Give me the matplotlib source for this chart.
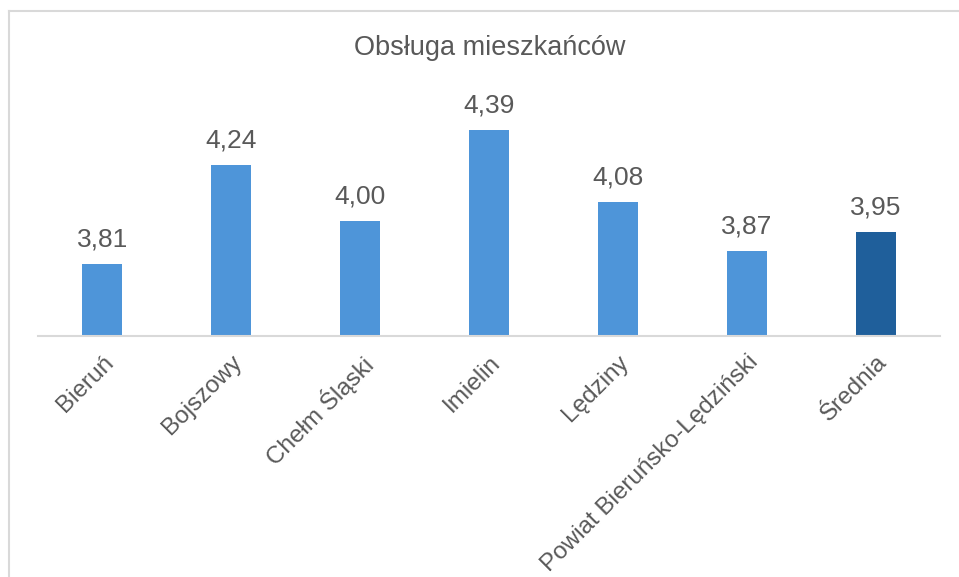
import matplotlib.pyplot as plt
import numpy as np

plt.rcParams['font.family'] = ['Liberation Sans', 'DejaVu Sans']

categories = ['Bieruń', 'Bojszowy', 'Chełm Śląski', 'Imielin', 'Lędziny',
              'Powiat Bieruńsko-Lędziński', 'Średnia']
values = [3.81, 4.24, 4.00, 4.39, 4.08, 3.87, 3.95]
colors = ['#4E95D9'] * 6 + ['#1F5F9B']
text_col = '#595959'

fig = plt.figure(figsize=(9.59, 5.77), dpi=100)
ax = fig.add_axes([38/959, (577-336)/577, 902/959, 254/577])

x = np.arange(len(categories))
ax.bar(x, [v - 3.5 for v in values], bottom=3.5, width=0.31, color=colors, zorder=2)
for xi, v in zip(x, values):
    ax.annotate(f'{v:.2f}'.replace('.', ','), (xi, v), xytext=(0, 9),
                textcoords='offset points', ha='center', va='bottom',
                fontsize=19, color=text_col)

ax.set_xlim(-0.5, 6.5)
ax.set_ylim(3.5, 4.6)
ax.set_yticks([])
ax.set_xticks(x)
ax.set_xticklabels(categories, rotation=45, ha='right', va='top',
                   rotation_mode='anchor', fontsize=17.5, color=text_col)
ax.tick_params(axis='x', length=0, pad=11)
for s in ['top', 'right', 'left']:
    ax.spines[s].set_visible(False)
ax.spines['bottom'].set_color('#D9D9D9')
ax.spines['bottom'].set_linewidth(1.5)

fig.text(490/959, 1 - 48/577, 'Obsługa mieszkańców', ha='center', va='center',
         fontsize=19.5, color=text_col)

# chart border (cropped at right and bottom)
fig.add_artist(plt.Line2D([9/959, 9/959], [0, 1 - 11/577], color='#D9D9D9',
                          lw=1.5, transform=fig.transFigure))
fig.add_artist(plt.Line2D([9/959, 1], [1 - 11/577, 1 - 11/577], color='#D9D9D9',
                          lw=1.5, transform=fig.transFigure))

fig.savefig('out.png', dpi=100)
